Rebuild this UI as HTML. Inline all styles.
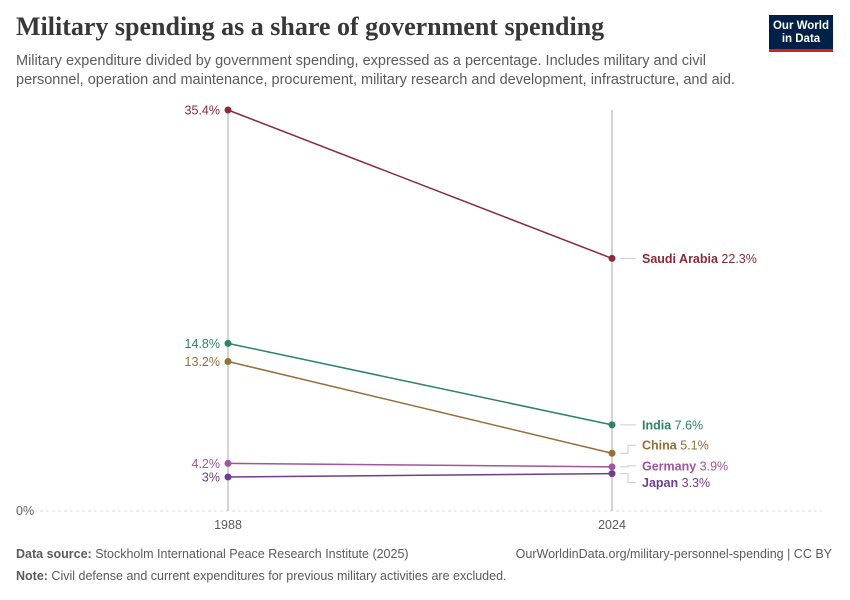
<!DOCTYPE html>
<html><head><meta charset="utf-8"><style>
body{margin:0;background:#fff;font-family:"Liberation Sans",sans-serif;}
#wrap{position:relative;width:850px;height:600px;overflow:hidden;}
.t{position:absolute;white-space:nowrap;}
</style></head><body><div id="wrap">
<div class="t" style="left:16px;top:12px;font-family:'Liberation Serif',serif;font-size:26px;font-weight:bold;color:#383838;">Military spending as a share of government spending</div>
<div class="t" style="left:16px;top:52px;font-size:14.5px;line-height:19px;color:#5b5b5b;">Military expenditure divided by government spending, expressed as a percentage. Includes military and civil<br>personnel, operation and maintenance, procurement, military research and development, infrastructure, and aid.</div>
<div style="position:absolute;left:769px;top:15px;width:64px;height:37px;background:#002147;border-bottom:3px solid #ce261e;box-sizing:border-box;color:#fff;font-size:11.5px;font-weight:bold;line-height:13px;text-align:center;padding-top:5px;">Our World<br>in Data</div>
<svg id="chart" width="850" height="600" style="position:absolute;left:0;top:0"></svg>
<div class="t" style="left:16px;top:547px;font-size:12.5px;color:#5b5b5b;"><b>Data source:</b> Stockholm International Peace Research Institute (2025)</div>
<div class="t" style="right:18px;top:547px;font-size:12.5px;color:#5b5b5b;">OurWorldinData.org/military-personnel-spending | CC BY</div>
<div class="t" style="left:16px;top:569px;font-size:12.5px;color:#5b5b5b;"><b>Note:</b> Civil defense and current expenditures for previous military activities are excluded.</div>
</div>
<script>
const countries=["Saudi Arabia","India","China","Germany","Japan"];
const v1988=[35.4,14.8,13.2,4.2,3];
const v2024=[22.3,7.6,5.1,3.9,3.3];
const leftLabels=["35.4%","14.8%","13.2%","4.2%","3%"];
const rightLabels=["22.3%","7.6%","5.1%","3.9%","3.3%"];
const years=["1988","2024"];
const colors=["#8c2a3a","#2c8465","#996d39","#a2559c","#6d3e91"];
const NS="http://www.w3.org/2000/svg";
const svg=document.getElementById('chart');
const x0=228,x1=612,yBase=511,yTop=110,vmax=35.4;
function y(v){return yBase-(v/vmax)*(yBase-yTop);}
function mk(tag,attrs,parent){const e=document.createElementNS(NS,tag);for(const k in attrs)e.setAttribute(k,attrs[k]);(parent||svg).appendChild(e);return e;}
let g=mk('line',{x1:16,x2:822,y1:yBase,y2:yBase,stroke:'#ddd','stroke-dasharray':'3,3'});


let zl=mk('text',{x:16,y:yBase+4,'font-size':12.5,fill:'#666'});zl.textContent='0%';


[x0,x1].forEach((xx,i)=>{
 const l=mk('line',{x1:xx,x2:xx,y1:yTop,y2:yBase,stroke:'#a8a8a8'});
 
 
 const t=mk('text',{x:xx,y:yBase+18,'text-anchor':'middle','font-size':12.5,fill:'#5b5b5b'});t.textContent=years[i];
 
 
});
// right label positions avoiding overlap
const ry=v2024.map(v=>y(v));
const lab=ry.slice();
for(let i=1;i<lab.length;i++){if(lab[i]-lab[i-1]<18)lab[i]=lab[i-1]+18;}
// shift to center overlapping cluster
const lb=[ry[0],ry[1],ry[2]-8,ry[3]-1,ry[4]+9];
for(let i=0;i<countries.length;i++){
 const c=colors[i];
 const ln=mk('line',{x1:x0,y1:y(v1988[i]),x2:x1,y2:y(v2024[i]),stroke:c,'stroke-width':1.5});
 
 
 [[x0,v1988[i]],[x1,v2024[i]]].forEach(p=>{
  const d=mk('circle',{cx:p[0],cy:y(p[1]),r:3.5,fill:c});
  
  
 });
 const lt=mk('text',{x:220,y:y(v1988[i])+4.5,'text-anchor':'end','font-size':12.5,fill:c});lt.textContent=leftLabels[i];
 
 
 const yy=lb[i];
 const cn=mk('polyline',{points:`${x1+8},${ry[i]} ${x1+16},${ry[i]} ${x1+16},${yy} ${x1+24},${yy}`,fill:'none',stroke:'#ccc'});
 
 
 const rt=mk('text',{x:x1+30,y:yy+4.5,'font-size':12.5,fill:c});
 rt.innerHTML='<tspan font-weight="bold">'+countries[i]+'</tspan> '+rightLabels[i];
 
 
}
</script></body></html>
